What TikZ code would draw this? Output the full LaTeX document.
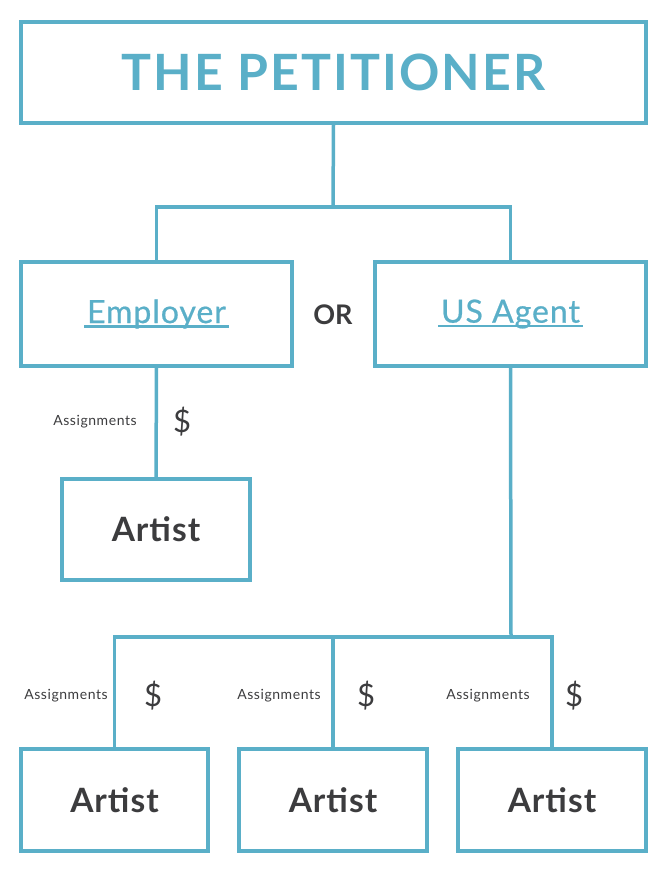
\documentclass[tikz,border=0pt]{standalone}
\usepackage{fontspec}
\setmainfont{Lato}
\usetikzlibrary{positioning}
\definecolor{teal}{HTML}{5AAFC8}
\definecolor{ink}{HTML}{3C3C3E}
\newcommand{\ulbar}[1]{\setbox0\hbox{#1}\rlap{\kern-3pt\raisebox{-4.5pt}{\rule{\dimexpr\wd0+6pt\relax}{2.6pt}}}\box0}
\tikzset{
  box/.style={draw=teal, line width=3.5pt, minimum width=#1, inner sep=0pt, fill=white},
  conn/.style={draw=teal, line width=3.5pt},
  lbl/.style={text=ink, font=\fontsize{14}{16}\selectfont\addfontfeatures{LetterSpace=4}},
  dollar/.style={text=ink, font=\fontsize{31}{34}\selectfont},
  artisttxt/.style={text=ink, font=\fontsize{33.5}{36}\selectfont\bfseries\addfontfeatures{LetterSpace=3}},
  roletxt/.style={text=teal, font=\fontsize{32}{38}\selectfont\addfontfeatures{LetterSpace=3,FakeBold=0.6}},
}
\begin{document}
\begin{tikzpicture}[x=1pt,y=-1pt]
\useasboundingbox (0,0) rectangle (667,873);
% boxes
\node[box=625pt, minimum height=101pt] (top) at (333.5,72.5)
  {\color{teal}\fontsize{50}{56}\selectfont\bfseries\addfontfeatures{LetterSpace=4.2}THE PETITIONER};
\node[box=271pt, minimum height=104pt, roletxt] (emp) at (156.5,314) {\ulbar{Employer}};
\node[box=271pt, minimum height=104pt, roletxt] (usa) at (510.5,314) {\ulbar{US Agent}};
\node[text=ink, font=\fontsize{27}{30}\selectfont\bfseries] (or) at (333,315) {OR};
\node[box=188pt, minimum height=101pt, artisttxt] (a0) at (156,529.5) {Artist};
\node[box=187pt, minimum height=102pt, artisttxt] (a1) at (114.5,800) {Artist};
\node[box=188pt, minimum height=102pt, artisttxt] (a2) at (333,800) {Artist};
\node[box=188pt, minimum height=102pt, artisttxt] (a3) at (552,800) {Artist};
% junctions
\coordinate (j1) at (333,207);
\coordinate (j2) at (511,637);
% connectors
\draw[conn] (top.south) -- (j1);
\draw[conn] (emp.north) |- (j1) -| (usa.north);
\draw[conn] (emp.south) -- (a0.north);
\draw[conn] (usa.south) -- (j2);
\draw[conn] (a1.north) |- (j2) -| (a3.north);
\draw[conn] (a2.north) -- (a2.north |- j2);
% labels
\node[lbl] (l0) at (95,422) {Assignments};
\node[dollar] (d0) at (182,422) {\$};
\node[lbl] (l1) at (66,696) {Assignments};
\node[dollar] (d1) at (153,696) {\$};
\node[lbl] (l2) at (279,696) {Assignments};
\node[dollar] (d2) at (366,696) {\$};
\node[lbl] (l3) at (488,696) {Assignments};
\node[dollar] (d3) at (574,696) {\$};
\end{tikzpicture}
\end{document}
